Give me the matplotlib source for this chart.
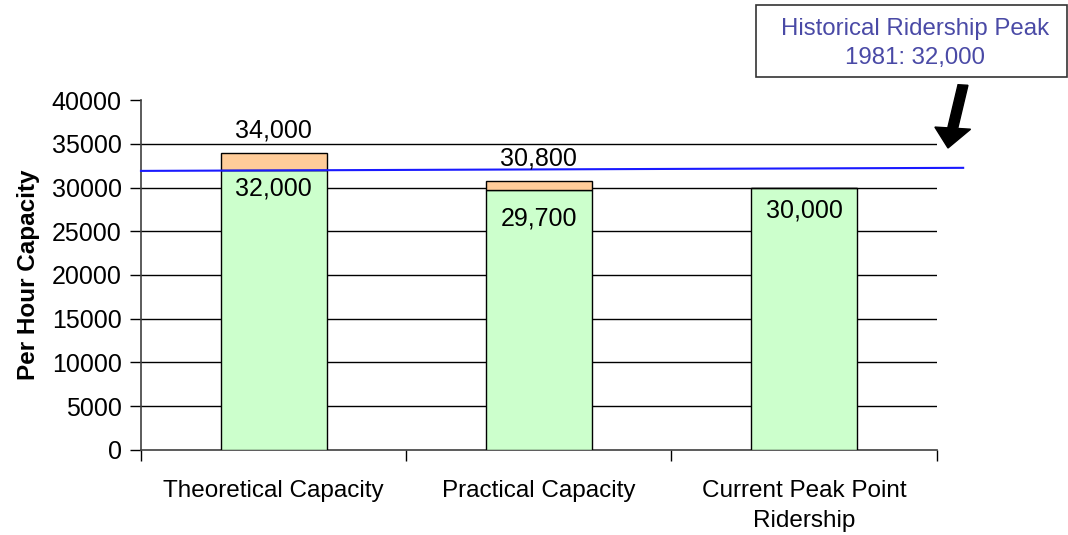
import matplotlib
matplotlib.use("Agg")
import matplotlib.pyplot as plt
from matplotlib.patches import Rectangle, FancyArrow

plt.rcParams['font.family'] = ['Liberation Sans', 'DejaVu Sans']

categories = ["Theoretical Capacity", "Practical Capacity", "Current Peak Point\nRidership"]
base_vals = [32000, 29700, 30000]
extra_vals = [2000, 1100, 0]
top_labels = ["34,000", "30,800", None]
base_labels = ["32,000", "29,700", "30,000"]
base_label_offsets = [-18, -28, -23]   # pixels below the green top
peak_x = [-0.5, 2.6]
peak_y = [31900, 32250]
yticks = list(range(0, 40001, 5000))

fig = plt.figure(figsize=(10.68, 5.35), dpi=100)
ax = fig.add_axes([0.132, 0.159, 0.745, 0.654])

x = range(len(categories))
ax.bar(x, base_vals, width=0.4, color="#ccffcc", edgecolor="black", linewidth=1, zorder=3)
ax.bar(x, extra_vals, width=0.4, bottom=base_vals, color="#ffcc99", edgecolor="black",
       linewidth=1, zorder=3)

for i in x:
    top = base_vals[i] + extra_vals[i]
    if top_labels[i]:
        ax.annotate(top_labels[i], (i, top), xytext=(0, 22), textcoords="offset pixels",
                    ha="center", va="center", fontsize=18, zorder=5)
    ax.annotate(base_labels[i], (i, base_vals[i]), xytext=(0, base_label_offsets[i]),
                textcoords="offset pixels", ha="center", va="center", fontsize=18, zorder=5)

# horizontal grid lines
for v in yticks[1:-1]:
    ax.axhline(v, color="black", linewidth=1, zorder=1)

ax.plot(peak_x, peak_y, color="#1a1aff", linewidth=1.5, zorder=4, clip_on=False)

ax.set_xlim(-0.5, 2.5)
ax.set_ylim(0, 40000)
ax.set_yticks(yticks)
ax.set_xticks(list(x))
ax.set_xticklabels(categories, fontsize=17.5, linespacing=1.45)
ax.tick_params(axis="x", length=0, pad=22)
ax.set_xticks([-0.5, 0.5, 1.5, 2.5], minor=True)
ax.tick_params(axis="x", which="minor", length=8, direction="out", width=1)
ax.tick_params(axis="y", labelsize=18, length=8, width=1, direction="out", pad=6)
ax.set_ylabel("Per Hour Capacity", fontsize=17.5, fontweight="bold", labelpad=8)

for s in ["top", "right"]:
    ax.spines[s].set_visible(False)
for s in ["left", "bottom"]:
    ax.spines[s].set_color("#404040")
    ax.spines[s].set_linewidth(1.2)

# callout box
W, H = 1068, 535
fig.patches.append(Rectangle((756 / W, 1 - 77 / H), 311 / W, 72 / H, transform=fig.transFigure,
                             facecolor="white", edgecolor="#333333", linewidth=1.2))
fig.text(915 / W, 1 - 43.5 / H, "Historical Ridership Peak\n1981: 32,000", ha="center",
         va="center", fontsize=17.3, color="#4a4aa6", linespacing=1.4)
fig.patches.append(FancyArrow(963 / W, 1 - 85 / H, -15 / W, -63 / H, transform=fig.transFigure,
                              width=5 / H, head_width=18 / H, head_length=20 / H,
                              length_includes_head=True, color="black"))

fig.savefig("out.png", dpi=100)
